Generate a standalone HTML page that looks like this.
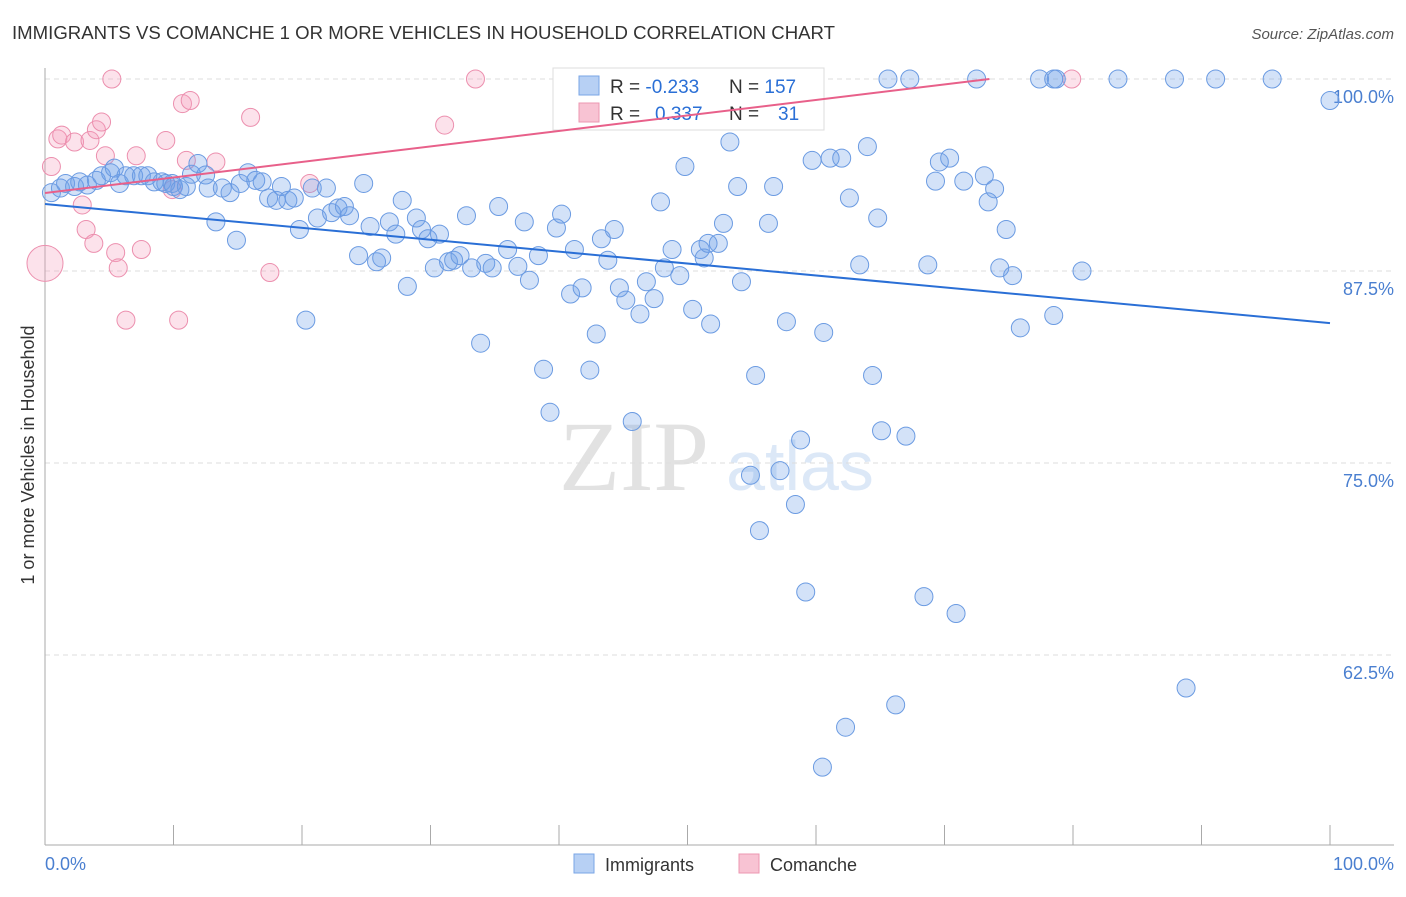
<!DOCTYPE html>
<html><head><meta charset="utf-8"><style>
body{margin:0;background:#fff;font-family:"Liberation Sans",sans-serif}
</style></head><body>
<svg width="1406" height="892" viewBox="0 0 1406 892" font-family="Liberation Sans, sans-serif">
<text x="12" y="39" font-size="18.6" fill="#333" textLength="823">IMMIGRANTS VS COMANCHE 1 OR MORE VEHICLES IN HOUSEHOLD CORRELATION CHART</text>
<text x="1394" y="39" font-size="15" fill="#555" font-style="italic" text-anchor="end">Source: ZipAtlas.com</text>
<g>
<text x="634" y="490" font-size="100" fill="#e2e2e2" style="font-family:'Liberation Serif',serif" text-anchor="middle">ZIP</text>
<text x="800" y="490" font-size="70" fill="#dce8f7" text-anchor="middle">atlas</text>
</g>
<g id="grid"></g>
<g id="axes"></g>
<g id="points"></g>
<g>
<rect x="553" y="68" width="271" height="62" fill="#fff" stroke="#ddd"/>
<rect x="579" y="76" width="20" height="19" fill="#b7d0f4" stroke="#7aa6e6"/>
<rect x="579" y="103" width="20" height="19" fill="#f8c3d3" stroke="#ec97b2"/>
<text x="610" y="93" font-size="19" fill="#333">R = <tspan fill="#2a6fd6">-0.233</tspan><tspan x="729">N = </tspan><tspan fill="#2a6fd6">157</tspan></text>
<text x="610" y="120" font-size="19" fill="#333">R = <tspan x="655" fill="#2a6fd6">0.337</tspan><tspan x="729">N = </tspan><tspan x="778" fill="#2a6fd6">31</tspan></text>
</g>
<g id="lines"></g>
<text transform="translate(34,455) rotate(-90)" font-size="18" fill="#333" text-anchor="middle">1 or more Vehicles in Household</text>
<text x="45" y="870" font-size="18" fill="#4a7fd0">0.0%</text>
<text x="1394" y="870" font-size="18" fill="#4a7fd0" text-anchor="end">100.0%</text>
<g>
<rect x="574" y="854" width="20" height="19" fill="#b7d0f4" stroke="#7aa6e6"/>
<text x="605" y="871" font-size="18" fill="#333">Immigrants</text>
<rect x="739" y="854" width="20" height="19" fill="#f8c3d3" stroke="#ec97b2"/>
<text x="770" y="871" font-size="18" fill="#333">Comanche</text>
</g>
</svg>
<script>
const yTicks=[100,87.5,75,62.5];
const yTickLabels=["100.0%","87.5%","75.0%","62.5%"];
const xTicks=[0,10,20,30,40,50,60,70,80,90,100];
const blueX=[0.5,1.2,1.6,2.3,2.7,3.3,4.0,4.4,5.1,5.4,5.8,6.3,6.9,7.5,8.0,8.5,9.1,9.4,9.9,10.0,10.5,11.0,11.4,11.9,12.5,12.7,13.3,13.8,14.4,14.9,15.2,15.8,16.4,16.9,17.4,18.0,18.4,18.9,19.4,19.8,20.3,20.8,21.2,21.9,22.3,22.8,23.3,23.7,24.4,24.8,25.3,25.8,26.2,26.8,27.3,27.8,28.2,28.9,29.3,29.8,30.3,30.7,31.4,31.8,32.3,32.8,33.2,33.9,34.3,34.8,35.3,36.0,36.8,37.3,37.7,38.4,38.8,39.3,39.8,40.2,40.9,41.2,41.8,42.4,42.9,43.3,43.8,44.3,44.7,45.2,45.7,46.3,46.8,47.4,47.9,48.2,48.8,49.4,49.8,50.4,51.0,51.3,51.8,52.4,53.3,53.9,54.2,54.9,55.3,55.6,56.3,56.7,57.2,57.7,58.4,58.8,59.2,59.7,60.5,60.6,61.1,62.0,62.3,62.6,63.4,64.0,64.4,64.8,65.1,65.6,66.2,67.0,67.3,68.4,68.7,69.3,69.6,70.4,70.9,71.5,72.5,73.1,73.4,73.9,74.3,74.8,75.3,75.9,77.4,78.5,78.5,78.7,80.7,83.5,87.9,88.8,91.1,95.5,100,51.6,52.8];
const blueY=[92.6,92.9,93.2,93.0,93.3,93.1,93.4,93.7,93.9,94.2,93.2,93.7,93.7,93.7,93.7,93.3,93.3,93.2,93.2,93.0,92.8,93.0,93.8,94.5,93.75,92.9,90.7,92.9,92.6,89.5,93.2,93.9,93.4,93.3,92.25,92.1,93.0,92.1,92.25,90.2,84.3,92.9,90.95,92.9,91.3,91.6,91.7,91.1,88.5,93.2,90.4,88.1,88.35,90.7,89.9,92.1,86.5,90.95,90.2,89.6,87.7,89.9,88.1,88.2,88.5,91.1,87.7,82.8,88.0,87.7,91.7,88.9,87.8,90.7,86.9,88.5,81.1,78.3,90.3,91.2,86.0,88.9,86.4,81.05,83.4,89.6,88.2,90.2,86.4,85.6,77.7,84.7,86.8,85.7,92.0,87.7,88.9,87.2,94.3,85.0,88.9,88.35,84.05,89.3,95.9,93.0,86.8,74.2,80.7,70.6,90.6,93.0,74.5,84.2,72.3,76.5,66.6,94.7,55.2,83.5,94.85,94.85,57.8,92.25,87.9,95.6,80.7,90.95,77.1,100,59.25,76.75,100,66.3,87.9,93.35,94.6,94.85,65.2,93.35,100,93.7,92.0,92.85,87.7,90.2,87.2,83.8,100,100,84.6,100,87.5,100,100,60.35,100,100,98.6,89.3,90.6];
const pinkX=[0,0.5,1.0,1.3,2.3,2.9,3.2,3.5,3.8,4.0,4.4,4.7,5.2,5.5,5.7,6.3,7.1,7.5,9.4,9.9,10.4,10.7,11.0,11.3,13.3,16.0,17.5,20.6,31.1,33.5,79.9];
const pinkY=[88.0,94.3,96.1,96.35,95.9,91.8,90.2,96.0,89.3,96.7,97.2,95.0,100,88.7,87.7,84.3,95.0,88.9,96.0,92.8,84.3,98.4,94.7,98.6,94.6,97.5,87.4,93.2,97.0,100,100];
const pinkSize=[18,9,9,9,9,9,9,9,9,9,9,9,9,9,9,9,9,9,9,9,9,9,9,9,9,9,9,9,9,9,9];
const blueTrend=[[0,91.86],[100,84.11]];
const pinkTrend=[[0,92.58],[73.5,100]];
const X0=45,X1=1330,Y100=79,PX_PER_PCT=192/12.5;
function sx(v){return X0+(X1-X0)*v/100;}
function sy(v){return Y100+(100-v)*PX_PER_PCT;}
const NS="http://www.w3.org/2000/svg";
function mk(t,a,p){const e=document.createElementNS(NS,t);for(const k in a)e.setAttribute(k,a[k]);p.appendChild(e);return e;}
const grid=document.getElementById('grid');
yTicks.forEach((t,i)=>{
 const l=mk('line',{x1:X0,x2:1394,y1:sy(t),y2:sy(t),stroke:'#ddd','stroke-dasharray':'5,4'},grid);
 
 
 const tx=mk('text',{x:1394,y:sy(t)+24,'font-size':18,fill:'#4a7fd0','text-anchor':'end'},grid);
 tx.textContent=yTickLabels[i];
 
 
});
const axes=document.getElementById('axes');
const ya=mk('line',{x1:X0,x2:X0,y1:68,y2:845,stroke:'#aaa'},axes);


const xa=mk('line',{x1:X0,x2:1394,y1:845,y2:845,stroke:'#aaa'},axes);


xTicks.forEach(t=>{
 const l=mk('line',{x1:sx(t),x2:sx(t),y1:825,y2:845,stroke:'#aaa'},axes);
 
 
});
const pts=document.getElementById('points');
pinkX.forEach((x,i)=>{
 const c=mk('circle',{cx:sx(x),cy:sy(pinkY[i]),r:pinkSize[i],fill:'rgba(244,160,188,0.3)',stroke:'#ec8fae','stroke-width':1},pts);
 
 
});
blueX.forEach((x,i)=>{
 const c=mk('circle',{cx:sx(x),cy:sy(blueY[i]),r:9,fill:'rgba(110,160,232,0.3)',stroke:'#6b9be2','stroke-width':1},pts);
 
 
});
const lines=document.getElementById('lines');
const bl=mk('line',{x1:sx(blueTrend[0][0]),y1:sy(blueTrend[0][1]),x2:sx(blueTrend[1][0]),y2:sy(blueTrend[1][1]),stroke:'#2a6fd6','stroke-width':2},lines);


const pl=mk('line',{x1:sx(pinkTrend[0][0]),y1:sy(pinkTrend[0][1]),x2:sx(pinkTrend[1][0]),y2:sy(pinkTrend[1][1]),stroke:'#e8608a','stroke-width':2},lines);


</script>
</body></html>
